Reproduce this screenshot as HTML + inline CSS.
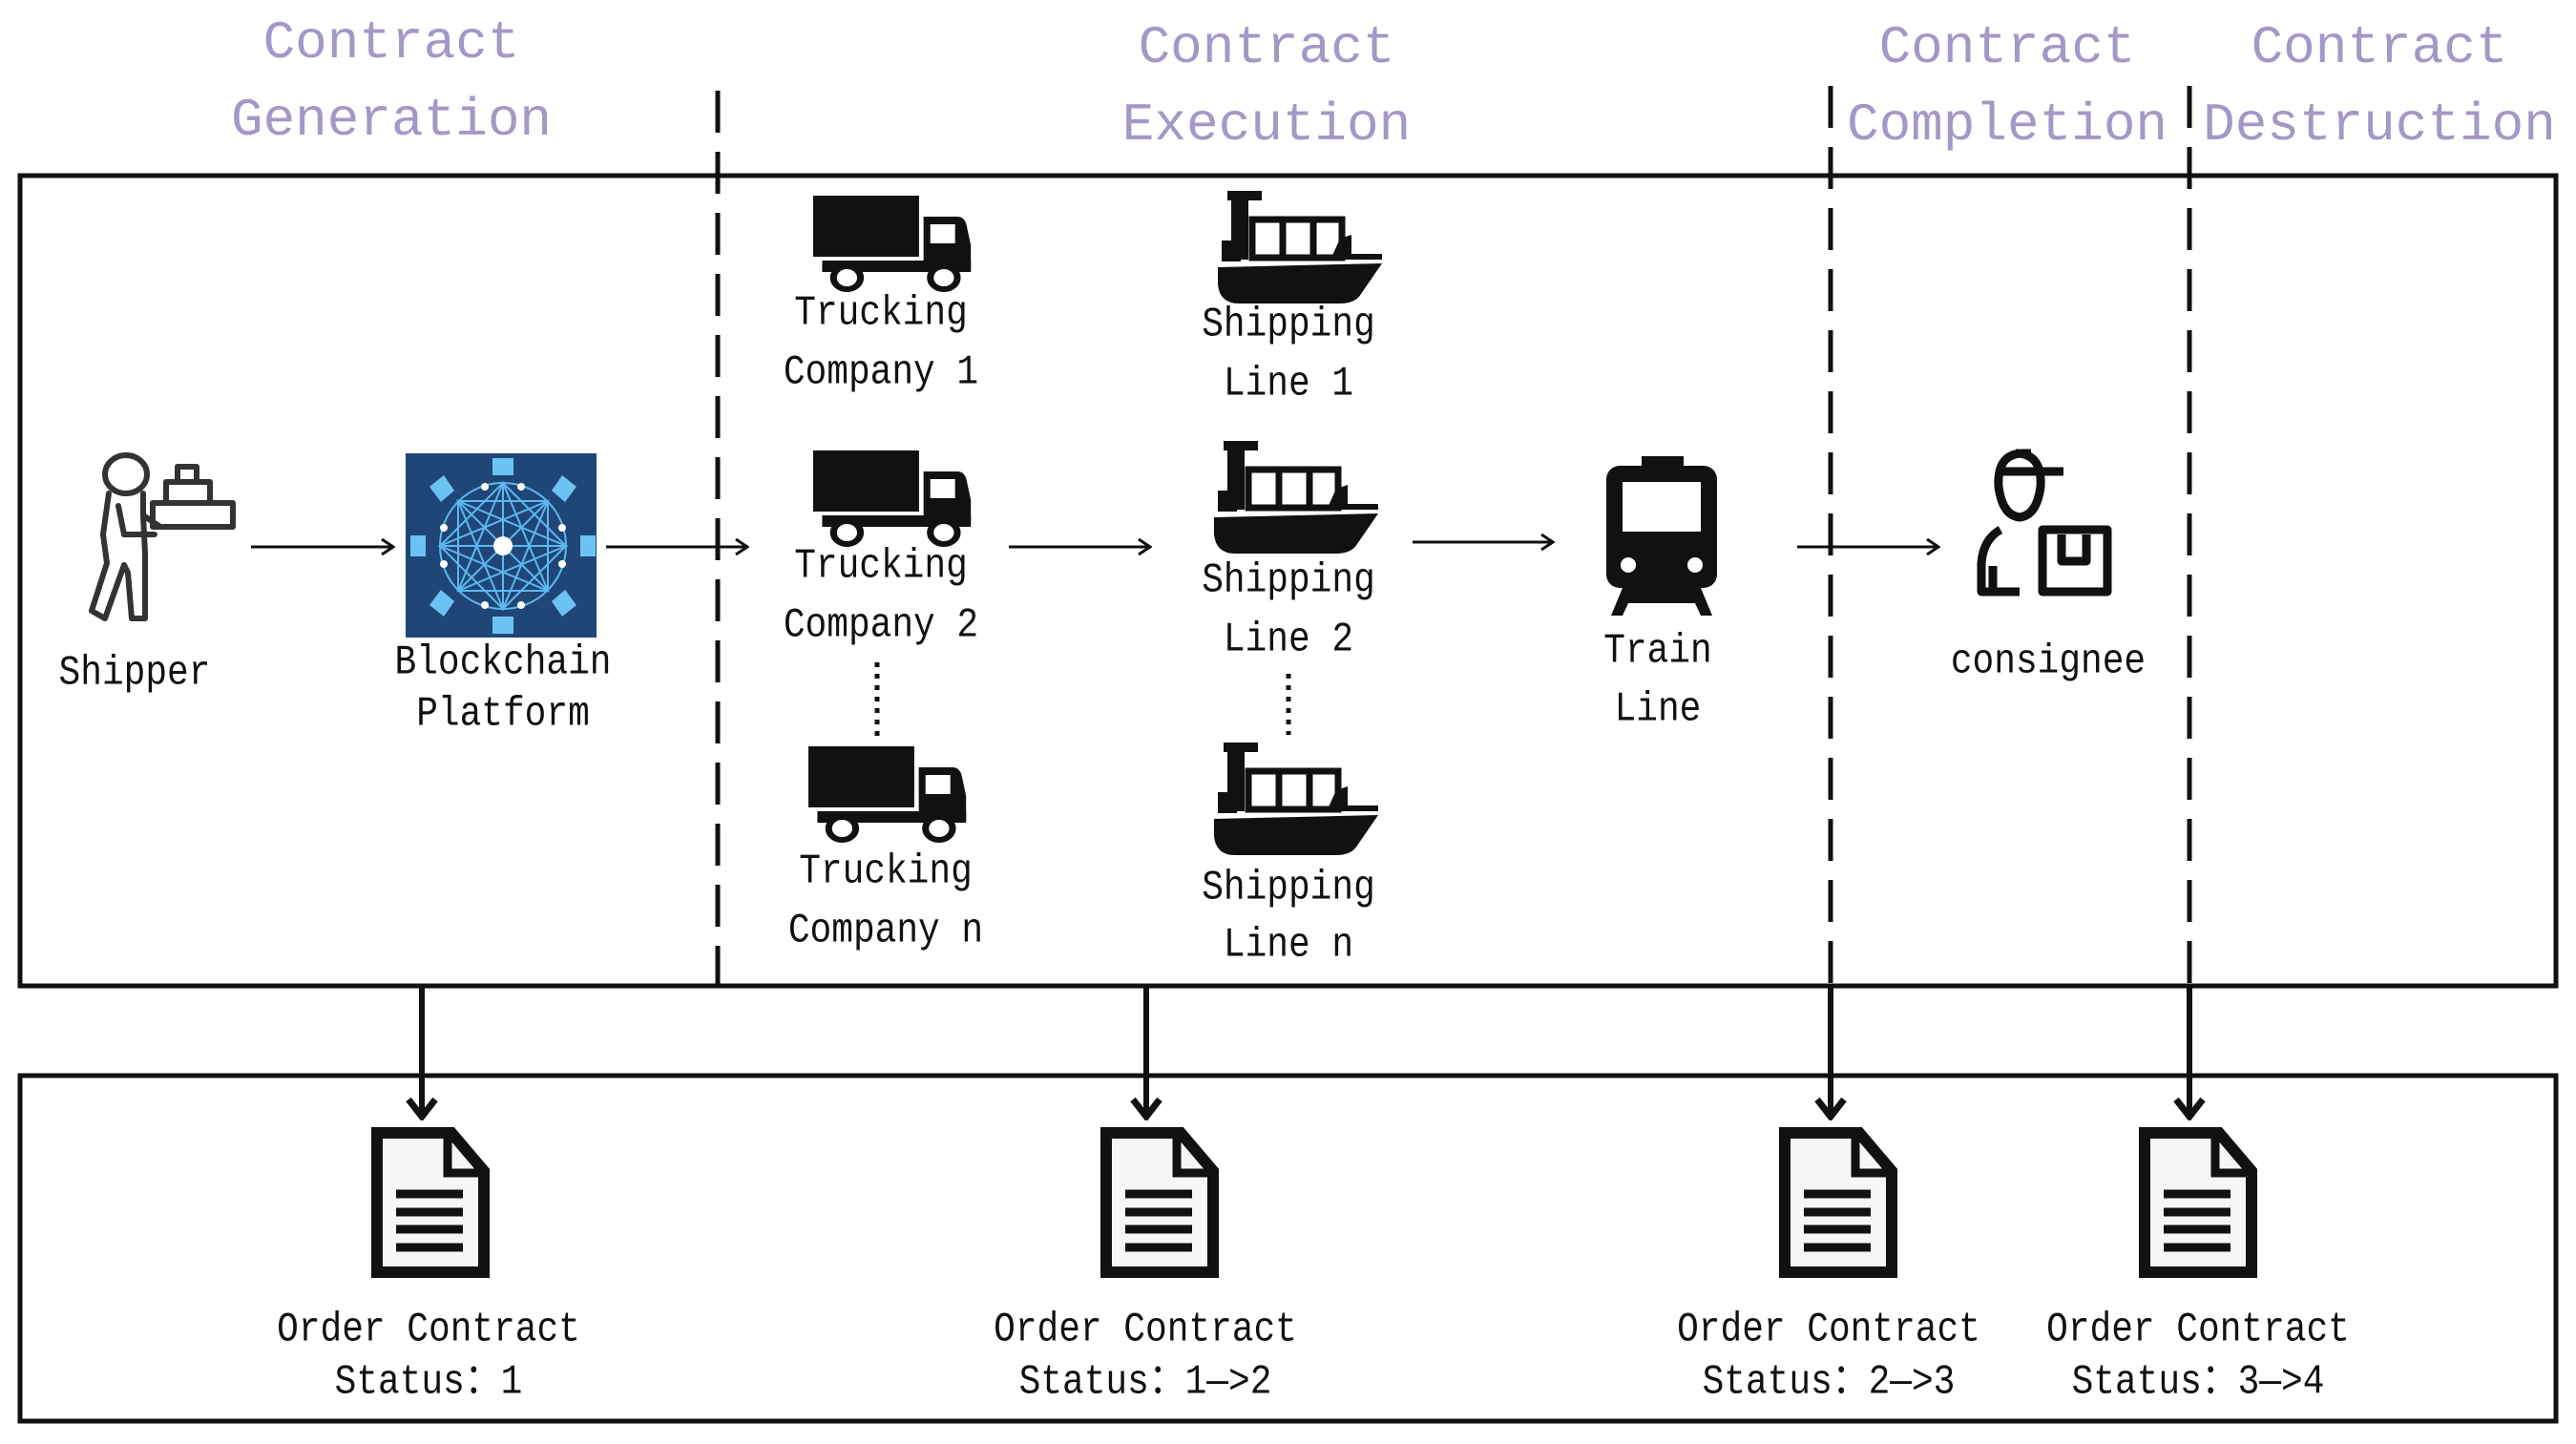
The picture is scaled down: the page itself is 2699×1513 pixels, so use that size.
<!DOCTYPE html>
<html><head><meta charset="utf-8"><style>
html,body{margin:0;padding:0;background:#fff}
svg{display:block}
text{font-family:"Liberation Mono","Noto Sans CJK SC",monospace;font-size:44px;fill:#111;text-anchor:middle;dominant-baseline:central;transform-box:fill-box;transform-origin:center;transform:scaleX(0.86)}
.t{font-family:"Liberation Mono","Liberation Serif",monospace;font-size:56px;fill:#a597c6;transform:none}
</style></head><body>
<svg width="2699" height="1513" viewBox="0 0 2699 1513" xmlns="http://www.w3.org/2000/svg">
<defs>
<g id="truck0">
 <rect x="0" y="0" width="94" height="64" fill="#111"/>
 <path d="M98,22 L128,22 Q134,22 136,30 L140,52 L140,78 L98,78 Z" fill="#111"/>
 <rect x="104" y="30" width="22" height="20" fill="#fff"/>
 <rect x="8" y="68" width="132" height="12" fill="#111"/>
 <circle cx="30" cy="86" r="12" fill="#fff" stroke="#111" stroke-width="6"/>
 <circle cx="116" cy="86" r="12" fill="#fff" stroke="#111" stroke-width="6"/>
</g>
<g id="truck"><use href="#truck0" transform="scale(1.18,1.0)"/></g>
<g id="ship">
 <rect x="10" y="0" width="36" height="10" fill="#111"/>
 <rect x="14" y="0" width="18" height="72" fill="#111"/>
 <rect x="4" y="52" width="20" height="22" fill="#111"/>
 <path d="M36,30 L130,30 L130,70 L36,70 Z" fill="none" stroke="#111" stroke-width="7"/>
 <line x1="68" y1="30" x2="68" y2="70" stroke="#111" stroke-width="7"/>
 <line x1="100" y1="30" x2="100" y2="70" stroke="#111" stroke-width="7"/>
 <path d="M118,72 L128,50 L140,46 L140,66 L172,66 L172,72 Z" fill="#111"/>
 <path d="M0,80 L172,76 L150,108 Q144,118 128,118 L22,118 Q2,118 0,98 Z" fill="#111"/>
</g>
<g id="doc">
 <path d="M6,6 L84,6 L118,46 L118,152 L6,152 Z" fill="#f6f6f6" stroke="#111" stroke-width="12" stroke-linejoin="miter"/>
 <path d="M80,6 L80,48 L118,48" fill="none" stroke="#111" stroke-width="9"/>
 <g stroke="#111" stroke-width="9"><line x1="26" y1="70" x2="96" y2="70"/><line x1="26" y1="89" x2="96" y2="89"/><line x1="26" y1="107" x2="96" y2="107"/><line x1="26" y1="126" x2="96" y2="126"/></g>
</g>
<marker id="ah" markerWidth="20" markerHeight="20" refX="18" refY="10" orient="auto" markerUnits="userSpaceOnUse"><path d="M6,2 L18,10 L6,18" fill="none" stroke="#111" stroke-width="3"/></marker>
<marker id="ah2" markerWidth="40" markerHeight="40" refX="20" refY="36" orient="0" markerUnits="userSpaceOnUse"><path d="M6,18 L20,36 L34,18" fill="none" stroke="#111" stroke-width="7"/></marker>
</defs>

<text class="t" x="410" y="45">Contract</text>
<text class="t" x="410" y="126">Generation</text>
<text class="t" x="1327" y="50">Contract</text>
<text class="t" x="1327" y="131">Execution</text>
<text class="t" x="2103" y="50">Contract</text>
<text class="t" x="2103" y="131">Completion</text>
<text class="t" x="2493" y="50">Contract</text>
<text class="t" x="2493" y="131">Destruction</text>

<rect x="21" y="184" width="2657" height="849" fill="none" stroke="#111" stroke-width="5"/>
<rect x="21" y="1127" width="2657" height="362" fill="none" stroke="#111" stroke-width="5"/>

<g stroke="#111" stroke-width="5" stroke-dasharray="44,20">
<line x1="752" y1="95" x2="752" y2="1035"/>
<line x1="1918" y1="90" x2="1918" y2="1035"/>
<line x1="2294" y1="90" x2="2294" y2="1035"/>
</g>

<g fill="none" stroke="#333" stroke-width="6" stroke-linejoin="round" stroke-linecap="round">
 <ellipse cx="132" cy="497" rx="22" ry="20"/>
 <path d="M114,517 L108,560 L112,590 L96,640 L110,648 L130,592 L134,600 L138,648 L152,648 L152,580 L150,540 L168,552 L180,552"/>
 <path d="M150,517 L150,540"/>
 <path d="M124,530 L130,560 L162,560"/>
 <rect x="160" y="527" width="84" height="25"/>
 <rect x="174" y="505" width="46" height="22"/>
 <rect x="186" y="489" width="20" height="16"/>
</g>
<text x="141" y="706">Shipper</text>

<rect x="425" y="475" width="200" height="193" fill="#1f4677"/>
<g stroke="#5cb8ee" stroke-width="2" fill="none">
 <circle cx="527" cy="572" r="66"/>
 <path d="M527,506 L574,619 L461,572 L574,525 L527,638 L480,525 L593,572 L480,619 Z"/>
 <path d="M527,506 L527,638 M461,572 L593,572 M480,525 L574,619 M574,525 L480,619"/>
 <path d="M527,506 L593,572 L527,638 L461,572 Z"/>
 <path d="M480,525 L574,525 L574,619 L480,619 Z"/>
</g>
<circle cx="527" cy="572" r="10" fill="#fff"/>
<g fill="#fff"><circle cx="508" cy="510" r="4"/><circle cx="546" cy="510" r="4"/><circle cx="508" cy="634" r="4"/><circle cx="546" cy="634" r="4"/><circle cx="465" cy="553" r="4"/><circle cx="465" cy="591" r="4"/><circle cx="589" cy="553" r="4"/><circle cx="589" cy="591" r="4"/></g>
<g fill="#6cc3f3">
 <rect x="516" y="480" width="22" height="18"/><rect x="516" y="646" width="22" height="18"/>
 <rect x="430" y="561" width="16" height="22"/><rect x="608" y="561" width="16" height="22"/>
 <path d="M450,510 L465,498 L476,514 L462,526 Z"/><path d="M604,510 L589,498 L578,514 L592,526 Z"/>
 <path d="M450,634 L465,646 L476,630 L462,618 Z"/><path d="M604,634 L589,646 L578,630 L592,618 Z"/>
</g>
<text x="527" y="695">Blockchain</text>
<text x="527" y="749">Platform</text>

<g stroke="#111" stroke-width="3" marker-end="url(#ah)">
<line x1="263" y1="573" x2="412" y2="573"/>
<line x1="635" y1="573" x2="783" y2="573"/>
<line x1="1057" y1="573" x2="1205" y2="573"/>
<line x1="1480" y1="568" x2="1627" y2="568"/>
<line x1="1883" y1="573" x2="2031" y2="573"/>
</g>

<use href="#truck" x="852" y="205"/>
<text x="923" y="329">Trucking</text>
<text x="923" y="391">Company 1</text>
<use href="#truck" x="852" y="472"/>
<text x="923" y="594">Trucking</text>
<text x="923" y="656">Company 2</text>
<line x1="919" y1="694" x2="919" y2="775" stroke="#111" stroke-width="5" stroke-dasharray="5,7"/>
<use href="#truck" x="847" y="782"/>
<text x="928" y="914">Trucking</text>
<text x="928" y="976">Company n</text>

<use href="#ship" x="1276" y="200"/>
<text x="1350" y="341">Shipping</text>
<text x="1350" y="403">Line 1</text>
<use href="#ship" x="1272" y="462"/>
<text x="1350" y="609">Shipping</text>
<text x="1350" y="671">Line 2</text>
<line x1="1350" y1="706" x2="1350" y2="770" stroke="#111" stroke-width="5" stroke-dasharray="5,7"/>
<use href="#ship" x="1272" y="778"/>
<text x="1350" y="931">Shipping</text>
<text x="1350" y="991">Line n</text>

<rect x="1720" y="478" width="44" height="14" fill="#111"/>
<rect x="1683" y="488" width="116" height="128" rx="14" fill="#111"/>
<rect x="1700" y="505" width="82" height="52" fill="#fff"/>
<circle cx="1706" cy="592" r="8" fill="#fff"/><circle cx="1776" cy="592" r="8" fill="#fff"/>
<path d="M1700,616 L1688,645 L1700,645 L1706,632 L1776,632 L1782,645 L1794,645 L1782,616 Z" fill="#111"/>
<text x="1737" y="683">Train</text>
<text x="1737" y="744">Line</text>

<g fill="none" stroke="#111" stroke-width="9" stroke-linejoin="round">
 <path d="M2128,475 L2120,475 Q2092,475 2094,510 Q2098,540 2116,542 Q2134,540 2138,510 Q2140,475 2112,475"/>
 <line x1="2094" y1="494" x2="2162" y2="494"/>
 <path d="M2096,555 Q2078,565 2076,590 L2076,620 L2116,620 M2088,620 L2088,593"/>
 <rect x="2140" y="555" width="68" height="65"/>
 <path d="M2160,560 L2160,588 L2186,588 L2186,560"/>
</g>
<text x="2146" y="694">consignee</text>

<g stroke="#111" stroke-width="6" marker-end="url(#ah2)">
<line x1="442" y1="1033" x2="442" y2="1170"/>
<line x1="1201" y1="1033" x2="1201" y2="1170"/>
<line x1="1918" y1="1033" x2="1918" y2="1170"/>
<line x1="2294" y1="1033" x2="2294" y2="1170"/>
</g>

<use href="#doc" x="389" y="1181"/>
<use href="#doc" x="1153" y="1181"/>
<use href="#doc" x="1864" y="1181"/>
<use href="#doc" x="2241" y="1181"/>
<text x="449" y="1394">Order Contract</text>
<text x="449" y="1449">Status：1</text>
<text x="1200" y="1394">Order Contract</text>
<text x="1200" y="1449">Status：1—&gt;2</text>
<text x="1916" y="1394">Order Contract</text>
<text x="1916" y="1449">Status：2—&gt;3</text>
<text x="2303" y="1394">Order Contract</text>
<text x="2303" y="1449">Status：3—&gt;4</text>
</svg>
</body></html>
